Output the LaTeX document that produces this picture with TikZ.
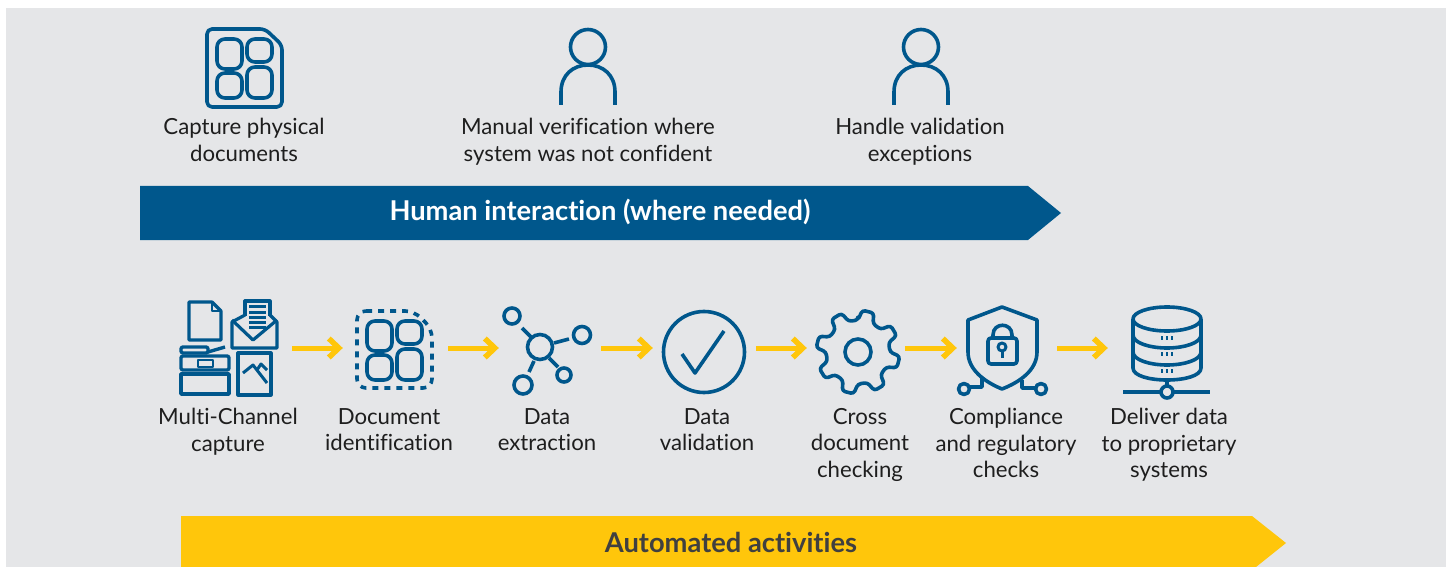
\documentclass[tikz,border=0pt]{standalone}
\usepackage{fontspec}
\setmainfont[Ligatures=NoCommon]{Lato}
\usetikzlibrary{arrows.meta}

\definecolor{panelgray}{HTML}{E5E6E8}
\definecolor{dsblue}{HTML}{00578C}
\definecolor{dsyellow}{HTML}{FFC60B}
\definecolor{inkblack}{HTML}{1E1E1E}

\begin{document}
\begin{tikzpicture}[x=1pt,y=-1pt]
  %----- styles
  \tikzset{
    icon/.style    ={draw=dsblue,line width=3.6pt,line join=round},
    slot/.style    ={inner sep=0pt,minimum height=6pt},
    caption/.style ={anchor=north,align=center,inner sep=0pt,text=inkblack,
                     font=\fontsize{22.2}{26.7}\selectfont},
    banner/.style  ={inner sep=0pt,font=\fontsize{27.3}{30}\bfseries\selectfont},
    arrow/.style   ={draw=dsyellow,line width=5pt,
                     -{Straight Barb[length=10pt,width=19pt,line width=5.5pt]}},
    cells/.pic     ={
      \draw[icon,rounded corners=8pt] (0,0) rectangle (25,30);
      \draw[icon,rounded corners=8pt] (30,0) rectangle (55,23);
      \draw[icon,rounded corners=8pt] (0,34) rectangle (25,59);
      \draw[icon,rounded corners=8pt] (30,28) rectangle (55,59);
    },
    person/.pic    ={
      \draw[icon] (0,0) circle[radius=17.5pt];
      \draw[icon] (-27,58) -- (-27,45) .. controls (-27,28) and (-15,18) .. (0,18)
        .. controls (15,18) and (27,28) .. (27,45) -- (27,58);
    }
  }

  %----- panel
  \useasboundingbox (0,0) rectangle (1449,567);
  \fill[panelgray] (6,8) rectangle (1446,567);

  %----- banners
  \fill[dsblue] (140,186) -- (1028,186) -- (1061,213) -- (1028,240) -- (140,240) -- cycle;
  \fill[dsyellow] (181,516) -- (1252,516) -- (1286,543) -- (1256,567) -- (181,567) -- cycle;
  \node[banner,text=white] (human) at (600,212) {Human interaction (where needed)};
  \node[banner,text=inkblack!85] (auto) at (731,542) {Automated activities};

  %----- top row
  % physical document
  \draw[icon,rounded corners=5pt] (207,29) -- (265,29) -- (282,45) -- (282,107) -- (207,107) -- cycle;
  \pic at (217,39) {cells};
  \pic at (588,47) {person};
  \pic at (921,47) {person};

  \node[caption] (capture) at (244,118) {Capture physical\\documents};
  \node[caption] (manual) at (588,118) {Manual verification where\\system was not confident};
  \node[caption] (handle) at (920,118) {Handle validation\\exceptions};

  %----- icon slots, same height so that the arrows run level
  \node[slot,minimum width=112pt] (multi) at (236,348) {};
  \node[slot,minimum width=105pt] (docid) at (395.5,348) {};
  \node[slot,minimum width=102pt] (extract) at (550,348) {};
  \node[slot,minimum width=103pt] (valid) at (704.5,348) {};
  \node[slot,minimum width=98pt] (cross) at (856,348) {};
  \node[slot,minimum width=100pt] (comply) at (1007,348) {};
  \node[slot,minimum width=112pt] (deliver) at (1164,348) {};

  %----- connections
  \draw[arrow] (multi) -- (docid);
  \draw[arrow] (docid) -- (extract);
  \draw[arrow] (extract) -- (valid);
  \draw[arrow] (valid) -- (cross);
  \draw[arrow] (cross) -- (comply);
  \draw[arrow] (comply) -- (deliver);

  %----- multi-channel icon
  % sheet
  \draw[icon,line width=3.2pt] (189,302) -- (212,302) -- (221,311) -- (221,340) -- (189,340) -- cycle;
  \draw[icon,line width=1.8pt] (212,302) -- (212,311) -- (221,311);
  % envelope
  \draw[icon,line width=3.2pt] (245,316) -- (245,301) -- (270,301) -- (270,316);
  \foreach \ly in {306,312,317,322,327}
    \draw[icon,line width=3pt] (249,\ly) -- (266,\ly);
  \draw[icon,line width=3.2pt] (245,315) -- (232,322) -- (232,348) -- (277,348) -- (277,322) -- (270,315);
  \draw[icon,line width=3.2pt] (232,320) -- (253,340) -- (277,320);
  % printer
  \draw[icon,line width=3.4pt,rounded corners=2pt] (181,347) rectangle (208,353);
  \draw[icon,line width=3.4pt] (208,352) -- (225,347);
  \draw[icon,line width=3.4pt,rounded corners=2pt] (181,370) -- (181,356) -- (229,356) -- (229,370) -- cycle;
  \draw[icon,line width=2.4pt] (198,360) rectangle (213,367);
  \draw[icon,line width=3.4pt] (181,394) -- (181,374) -- (229,374) -- (229,394) -- cycle;
  % picture
  \draw[icon,line width=3.2pt] (238,353) rectangle (271,395);
  \draw[icon,line width=3pt] (243,373) -- (253,365) -- (267,383);
  \draw[icon,line width=3pt] (257,370) -- (261,364) -- (267,370);

  %----- document identification icon
  \draw[icon,dash pattern=on 6pt off 6pt,rounded corners=9pt] (357,311) -- (414,311) -- (432,329) -- (432,388) -- (357,388) -- cycle;
  \pic at (367,321) {cells};

  %----- data extraction icon
  \draw[icon] (540,347) circle[radius=12.5pt];
  \draw[icon] (512,316) circle[radius=8pt];
  \draw[icon] (582,335) circle[radius=8.5pt];
  \draw[icon] (564,375) circle[radius=7pt];
  \draw[icon] (523,385) circle[radius=9pt];
  \draw[icon] (522,328) -- (531,337);
  \draw[icon] (554,343) -- (569,339);
  \draw[icon] (549,358) -- (558,367);
  \draw[icon] (534,361) -- (529,372);

  %----- data validation icon
  \draw[icon] (704,352) circle[radius=40.5pt];
  \draw[icon] (682,354) -- (695,373) -- (724,331);

  %----- cross document icon
  \begin{scope}[shift={(858,352)}]
    \draw[icon] (0,0) circle[radius=13pt];
    \draw[icon,rounded corners=3pt] (-76-14:32)
      \foreach \ang in {-76,-31,14,59,104,149,194,239}
        { -- (\ang-14:32) -- (\ang-8:42) -- (\ang+8:42) -- (\ang+14:32) } -- cycle;
  \end{scope}

  %----- compliance icon
  \draw[icon] (968,320) -- (1002,307) -- (1037,320) -- (1037,352)
    .. controls (1037,370) and (1020,382) .. (1002,389)
    .. controls (985,382) and (968,370) .. (968,352) -- cycle;
  \draw[icon,rounded corners=3pt] (988,338) rectangle (1017,364);
  \draw[icon] (993,338) -- (993,335) .. controls (993,322) and (1012,322) .. (1012,335) -- (1012,338);
  \draw[icon,line width=3pt] (1002,347) circle[radius=4pt];
  \draw[icon,line width=3pt] (1002,351) -- (1002,358);
  \draw[icon] (964,389) circle[radius=5.5pt];
  \draw[icon] (969,387) -- (982,387) -- (982,378);
  \draw[icon] (1041,389) circle[radius=5.5pt];
  \draw[icon] (1036,388) -- (1022,388) -- (1022,380);

  %----- database icon
  \draw[icon] (1167,319) ellipse[x radius=34pt,y radius=12pt];
  \draw[icon] (1133,319) -- (1133,368) .. controls (1133,376) and (1150,380) .. (1167,380)
    .. controls (1184,380) and (1201,376) .. (1201,368) -- (1201,319);
  \draw[icon] (1133,335) .. controls (1133,343) and (1150,348) .. (1167,348)
    .. controls (1184,348) and (1201,343) .. (1201,335);
  \draw[icon] (1133,352) .. controls (1133,360) and (1150,365) .. (1167,365)
    .. controls (1184,365) and (1201,360) .. (1201,352);
  \foreach \dy in {338,354,371}
    \foreach \dx in {1162,1167,1172}
      \fill[dsblue] (\dx-1.2,\dy-2) rectangle (\dx+1.2,\dy+2);
  \draw[icon] (1167,380) -- (1167,386);
  \draw[icon] (1123,392) -- (1161,392);
  \draw[icon] (1173,392) -- (1210,392);
  \draw[icon] (1167,392) circle[radius=6pt];

  %----- captions
  \node[caption] (lblmulti) at (228,408) {Multi-Channel\\capture};
  \node[caption] (lbldocid) at (389,408) {Document\\identification};
  \node[caption] (lblextract) at (547,408) {Data\\extraction};
  \node[caption] (lblvalid) at (707,408) {Data\\validation};
  \node[caption] (lblcross) at (860,408) {Cross\\document\\checking};
  \node[caption] (lblcomply) at (1006,408) {Compliance\\and regulatory\\checks};
  \node[caption] (lbldeliver) at (1169,408) {Deliver data\\to proprietary\\systems};
\end{tikzpicture}
\end{document}
